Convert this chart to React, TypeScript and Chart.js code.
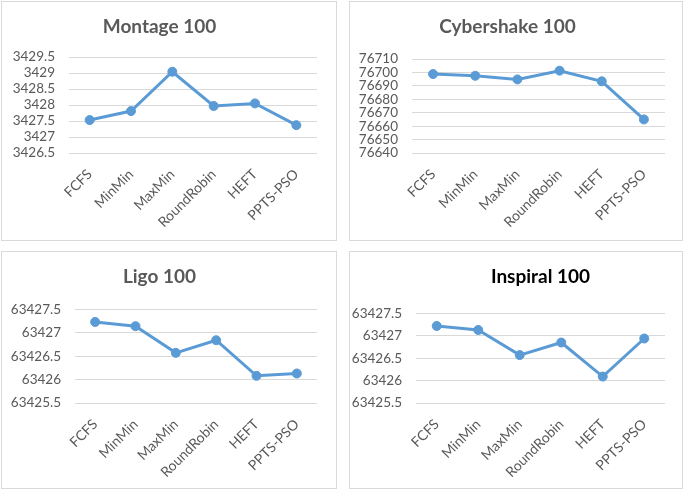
import React, { useEffect, useRef } from "react";
import { Chart, registerables } from "chart.js";

Chart.register(...registerables);

// ---- data ----
const categories = ["FCFS", "MinMin", "MaxMin", "RoundRobin", "HEFT", "PPTS-PSO"];

const montageValues = [3427.53, 3427.81, 3429.04, 3427.97, 3428.05, 3427.37];
const cybershakeValues = [76698.8, 76697.5, 76694.8, 76701.3, 76693.4, 76665.0];
const ligoValues = [63427.23, 63427.14, 63426.57, 63426.84, 63426.08, 63426.13];
const inspiralValues = [63427.22, 63427.13, 63426.57, 63426.85, 63426.09, 63426.94];

const montageAxis = [3426.5, 3429.5, 0.5];
const cybershakeAxis = [76640, 76710, 10];
const ligoAxis = [63425.5, 63427.5, 0.5];
const inspiralAxis = [63425.5, 63427.5, 0.5];

const titles = ["Montage 100", "Cybershake 100", "Ligo 100", "Inspiral 100"];

const FONT = "Lato, 'Open Sans', sans-serif";
const LINE = "#5B9BD5";
const GREY = "#595959";

type PanelProps = {
  title: string;
  values: number[];
  axis: number[];
  left: number;
  top: number;
  width: number;
  height: number;
  yAxisWidth: number;
  xAxisHeight: number;
  rightPad: number;
  titlePadTop: number;
  titlePadBottom: number;
  titleColor: string;
  titleFullSize: boolean;
};

function Panel(p: PanelProps) {
  const ref = useRef<HTMLCanvasElement | null>(null);
  const cw = p.width - 2;
  const ch = p.height - 2;

  useEffect(() => {
    if (!ref.current) return;
    const chart = new Chart(ref.current, {
      type: "line",
      data: {
        labels: categories,
        datasets: [
          {
            data: p.values,
            borderColor: LINE,
            backgroundColor: LINE,
            borderWidth: 3,
            pointRadius: 4.5,
            pointBackgroundColor: LINE,
            pointBorderColor: LINE,
            pointBorderWidth: 1,
            tension: 0,
            fill: false,
          },
        ],
      },
      options: {
        animation: false,
        responsive: false,
        devicePixelRatio: 1,
        layout: { padding: { left: 0, right: p.rightPad, top: 0, bottom: 0 } },
        plugins: {
          legend: { display: false },
          tooltip: { enabled: false },
          title: {
            display: true,
            text: p.title,
            color: p.titleColor,
            fullSize: p.titleFullSize,
            font: { family: FONT, size: 19, weight: "bold", lineHeight: 1.2 },
            padding: { top: p.titlePadTop, bottom: p.titlePadBottom },
          },
        },
        scales: {
          x: {
            type: "category",
            offset: true,
            grid: { display: false, drawTicks: false },
            border: { display: false },
            ticks: {
              color: GREY,
              font: { family: FONT, size: 14 },
              minRotation: 45,
              maxRotation: 45,
              padding: 13,
              autoSkip: false,
            },
            afterFit: (s: any) => {
              s.height = p.xAxisHeight;
            },
          },
          y: {
            type: "linear",
            min: p.axis[0],
            max: p.axis[1],
            grid: { color: "#D9D9D9", lineWidth: 1, drawTicks: false },
            border: { display: false },
            ticks: {
              stepSize: p.axis[2],
              autoSkip: false,
              color: GREY,
              font: { family: FONT, size: 13.5 },
              padding: 14,
              callback: (v: any) => String(Math.round(Number(v) * 10) / 10),
            },
            afterFit: (s: any) => {
              s.width = p.yAxisWidth;
            },
          },
        },
      },
    } as any);
    return () => chart.destroy();
  }, []);

  return (
    <div
      style={{
        position: "absolute",
        left: p.left,
        top: p.top,
        width: p.width,
        height: p.height,
        boxSizing: "border-box",
        border: "1px solid #D9D9D9",
        background: "#fff",
      }}
    >
      <canvas ref={ref} width={cw} height={ch} style={{ display: "block", width: cw, height: ch }} />
    </div>
  );
}

export default function App() {
  return (
    <div
      style={{
        position: "fixed",
        left: 0,
        top: 0,
        width: 685,
        height: 491,
        background: "#fff",
        overflow: "hidden",
      }}
    >
      <Panel
        title={titles[0]}
        values={montageValues}
        axis={montageAxis}
        left={1}
        top={1}
        width={336}
        height={240}
        yAxisWidth={67}
        xAxisHeight={87}
        rightPad={19}
        titlePadTop={13.6}
        titlePadBottom={18.6}
        titleColor={GREY}
        titleFullSize={true}
      />
      <Panel
        title={titles[1]}
        values={cybershakeValues}
        axis={cybershakeAxis}
        left={349}
        top={1}
        width={334}
        height={240}
        yAxisWidth={62}
        xAxisHeight={87}
        rightPad={17}
        titlePadTop={13.6}
        titlePadBottom={20.6}
        titleColor={GREY}
        titleFullSize={true}
      />
      <Panel
        title={titles[2]}
        values={ligoValues}
        axis={ligoAxis}
        left={1}
        top={251}
        width={336}
        height={238}
        yAxisWidth={73}
        xAxisHeight={85}
        rightPad={19}
        titlePadTop={13.6}
        titlePadBottom={20.9}
        titleColor={GREY}
        titleFullSize={true}
      />
      <Panel
        title={titles[3]}
        values={inspiralValues}
        axis={inspiralAxis}
        left={349}
        top={251}
        width={334}
        height={238}
        yAxisWidth={66}
        xAxisHeight={85}
        rightPad={17}
        titlePadTop={13.6}
        titlePadBottom={25}
        titleColor={"#000000"}
        titleFullSize={false}
      />
    </div>
  );
}
